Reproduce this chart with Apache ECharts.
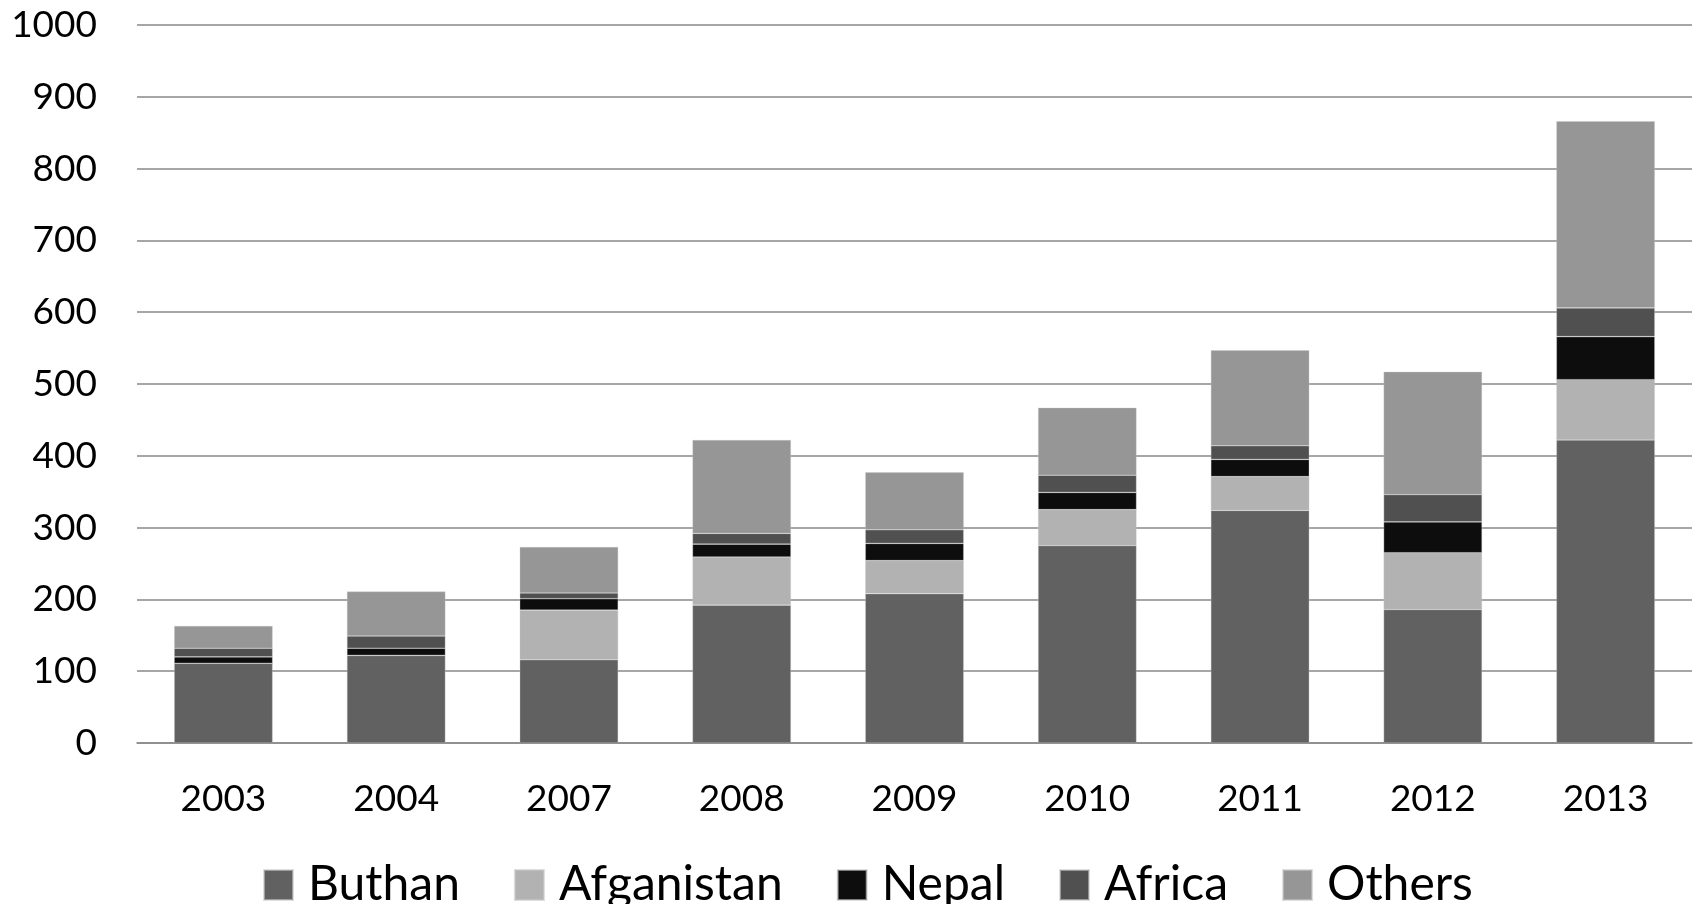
<!DOCTYPE html>
<html>
<head>
<meta charset="utf-8">
<script src="https://cdn.jsdelivr.net/npm/echarts@6/dist/echarts.min.js"></script>
<style>
  html, body { margin: 0; padding: 0; background: #ffffff; }
  #chart { width: 1696px; height: 904px; }
</style>
</head>
<body>
<div id="chart"></div>
<script>
// Years on the x axis
const years = ['2003', '2004', '2007', '2008', '2009', '2010', '2011', '2012', '2013'];

// Stacked counts per origin
const buthan     = [111, 122, 116, 192, 208, 275, 324, 186, 422];
const afganistan = [0,   0,   69,  67,  46,  50,  47,  79,  84];
const nepal      = [9,   10,  16,  18,  24,  24,  24,  43,  60];
const africa     = [12,  17,  8,   15,  19,  24,  19,  38,  40];
const others     = [31,  62,  64,  130, 80,  94,  133, 171, 260];

const seriesNames = ['Buthan', 'Afganistan', 'Nepal', 'Africa', 'Others'];
const seriesColors = ['#616161', '#b2b2b2', '#0d0d0d', '#505050', '#969696'];
const seriesData = [buthan, afganistan, nepal, africa, others];

const FONT = 'Lato, "Open Sans", sans-serif';

const chart = echarts.init(document.getElementById('chart'), null, { renderer: 'canvas' });

chart.setOption({
  backgroundColor: '#ffffff',
  animation: false,
  grid: { left: 137, right: 4, top: 25, bottom: 161, containLabel: false },
  legend: {
    data: seriesNames,
    left: 258,
    top: 856,
    itemWidth: 29,
    itemHeight: 30,
    itemGap: 54,
    icon: 'rect',
    textStyle: {
      fontFamily: FONT,
      fontSize: 48,
      color: '#000000',
      padding: [0, 0, 0, 10]
    }
  },
  xAxis: {
    type: 'category',
    data: years,
    axisLine: { show: true, lineStyle: { color: '#898989', width: 1.5 } },
    axisTick: { show: false },
    axisLabel: {
      fontFamily: FONT,
      fontSize: 37,
      color: '#000000',
      margin: 38
    }
  },
  yAxis: {
    type: 'value',
    min: 0,
    max: 1000,
    interval: 100,
    axisLine: { show: false },
    axisTick: { show: false },
    splitLine: { lineStyle: { color: '#898989', width: 1.5 } },
    axisLabel: {
      fontFamily: FONT,
      fontSize: 37,
      color: '#000000',
      margin: 40,
      formatter: (v) => String(v)
    }
  },
  series: seriesNames.map((name, i) => ({
    name: name,
    type: 'bar',
    stack: 'total',
    data: seriesData[i],
    barCategoryGap: '43%',
    itemStyle: { color: seriesColors[i], borderColor: 'rgba(200,200,200,0.6)', borderWidth: 0.6 },
    emphasis: { disabled: true }
  }))
});
</script>
</body>
</html>
